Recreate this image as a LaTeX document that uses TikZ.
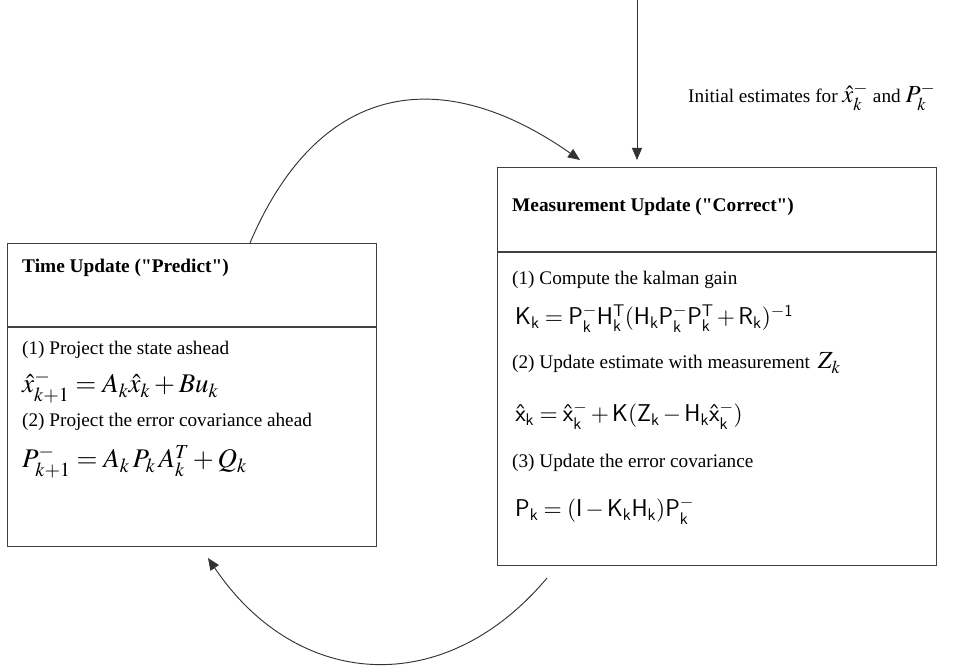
\documentclass[tikz,border=0pt]{standalone}
\usepackage{mathptmx}
\usepackage{fontspec}
\setmainfont{Liberation Serif}
\setsansfont{Liberation Sans}
\usetikzlibrary{arrows.meta}
\begin{document}
\begin{tikzpicture}[
  box/.style={draw=black!75, line width=1.1pt, anchor=north west, inner sep=0pt},
  txt/.style={anchor=base west, inner sep=0pt, font=\fontsize{16.4}{19}\selectfont},
  ttl/.style={anchor=base west, inner sep=0pt, font=\fontsize{16.5}{19}\selectfont\bfseries},
  eqn/.style={anchor=base west, inner sep=0pt, font=\fontsize{23}{27}\selectfont},
  seqn/.style={anchor=base west, inner sep=0pt, font=\fontsize{20}{24}\selectfont},
  link/.style={draw=black!80, line width=0.8pt, -{Triangle[length=3.6mm,width=3mm]}}
]
  \useasboundingbox (0,0) rectangle (28.59,19.98);
  \node[box, minimum width=11.07cm, minimum height=9.09cm] (tu) at (0.21,12.69) {};
  \draw[black!75, line width=1.1pt] (tu.west |- 0,10.17) -- (tu.east |- 0,10.17);
  \node[box, minimum width=13.17cm, minimum height=11.94cm] (mu) at (14.91,14.97) {};
  \draw[black!75, line width=1.1pt] (mu.west |- 0,12.42) -- (mu.east |- 0,12.42);
  \node[ttl] (tutitle) at (0.66,11.79) {Time Update (\textquotedbl Predict\textquotedbl)};
  \node[txt] (tu1) at (0.66,9.33) {(1) Project the state ashead};
  \node[eqn] (tueq1) at (0.66,8.19) {$\hat{x}_{k+1}^- = A_k\hat{x}_k + Bu_k$};
  \node[txt] (tu2) at (0.66,7.17) {(2) Project the error covariance ahead};
  \node[eqn] (tueq2) at (0.66,5.94) {$P_{k+1}^- = A_k\,P_k\,A_k^T + Q_k$};
  \node[ttl] (mutitle) at (15.36,13.62) {Measurement Update (\textquotedbl Correct\textquotedbl)};
  \node[txt] (mu1) at (15.36,11.43) {(1) Compute the kalman gain};
  \node[seqn] (mueq1) at (15.45,10.23) {$\mathsf{K_k = P_k^- H_k^T(H_k P_k^- P_k^T + R_k)^{-1}}$};
  \node[txt] (mu2) at (15.36,8.91) {(2) Update estimate with measurement \,{\fontsize{21}{25}\selectfont$Z_k$}};
  \node[seqn] (mueq2) at (15.45,7.32) {$\mathsf{\hat{x}_k = \hat{x}_k^- + K(Z_k - H_k\hat{x}_k^-)}$};
  \node[txt] (mu3) at (15.36,5.94) {(3) Update the error covariance};
  \node[seqn] (mueq3) at (15.45,4.47) {$\mathsf{P_k = (I - K_k H_k)P_k^-}$};
  \node[txt] (init) at (20.64,16.89) {Initial estimates for {\fontsize{21}{25}\selectfont$\hat{x}_k^-$} and {\fontsize{21}{25}\selectfont$P_k^-$}};
  \coordinate (src) at (19.11,19.98);
  \coordinate (mtop) at (19.11,15.18);
  \coordinate (tuout) at (7.5,12.69);
  \coordinate (muin) at (17.4,15.18);
  \coordinate (muout) at (16.41,2.64);
  \coordinate (tuin) at (6.24,3.24);
  \draw[link] (src) -- (mtop);
  \draw[link] (tuout) to[out=67, in=145, looseness=1.3] (muin);
  \draw[link] (muout) to[out=230, in=304, looseness=1.2] (tuin);
\end{tikzpicture}
\end{document}
